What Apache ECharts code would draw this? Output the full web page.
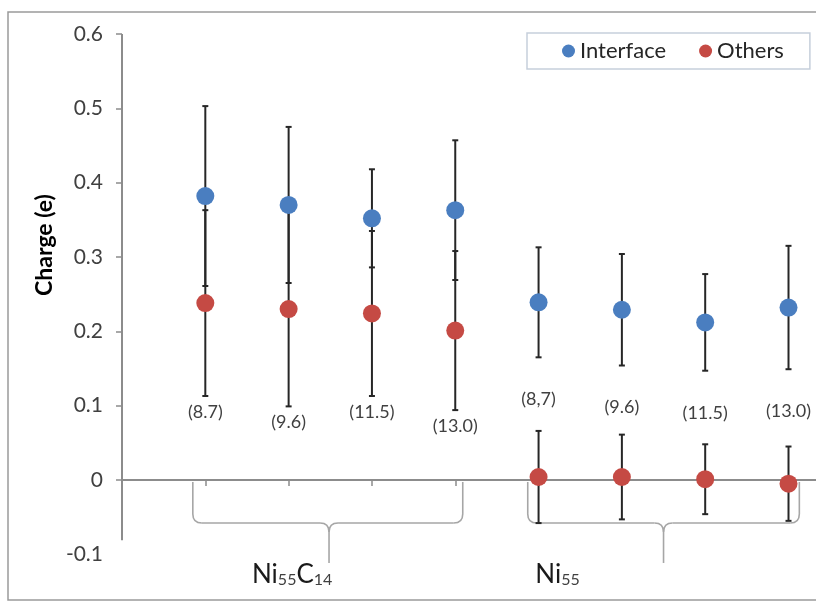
<!DOCTYPE html>
<html>
<head>
<meta charset="utf-8">
<script src="https://cdn.jsdelivr.net/npm/echarts@6/dist/echarts.min.js"></script>
<style>
  html, body { margin: 0; padding: 0; background: #ffffff; }
  #chart { width: 816px; height: 602px; }
</style>
</head>
<body>
<div id="chart"></div>
<script>
// Cluster-size labels under each column, left block Ni55C14, right block Ni55
const sizeLabels = ['(8.7)', '(9.6)', '(11.5)', '(13.0)', '(8,7)', '(9.6)', '(11.5)', '(13.0)'];
const groupOf = [0, 0, 0, 0, 1, 1, 1, 1];

// Mean charge (e) and its spread
const interfaceCharge = [0.382, 0.370, 0.352, 0.363, 0.239, 0.229, 0.212, 0.232];
const interfaceErr    = [0.121, 0.105, 0.066, 0.094, 0.074, 0.075, 0.065, 0.083];
const othersCharge    = [0.238, 0.230, 0.224, 0.201, 0.004, 0.004, 0.001, -0.005];
const othersErr       = [0.125, 0.131, 0.111, 0.107, 0.062, 0.057, 0.047, 0.050];

// Axis ticks and labels
const yTickValues  = [0, 0.1, 0.2, 0.3, 0.4, 0.5, 0.6];
const yLabelValues = [-0.1, 0, 0.1, 0.2, 0.3, 0.4, 0.5, 0.6];
const xTickValues  = [1, 2, 3, 4, 5, 6, 7, 8];

const FONT = 'Lato, "Open Sans", sans-serif';
const BLUE = '#4A7EC0';
const RED = '#C54A44';
const AXIS_GREY = '#8c8c8c';

const xs = sizeLabels.map((_, i) => i + 1);
const interfaceData = xs.map((x, i) => [x, interfaceCharge[i]]);
const othersData = xs.map((x, i) => [x, othersCharge[i]]);
const interfaceBars = xs.map((x, i) => [x, interfaceCharge[i], interfaceErr[i]]);
const othersBars = xs.map((x, i) => [x, othersCharge[i], othersErr[i]]);

// Size labels hang below the lowest error bar of the column for the left block,
// and below the interface bar for the right block.
const labelAnchor = xs.map((x, i) => groupOf[i] === 0
  ? [x, othersCharge[i] - othersErr[i], i]
  : [x, interfaceCharge[i] - interfaceErr[i], i]);
const labelGap = [16, 42];

function errorBarItem(params, api) {
  const x = api.value(0), v = api.value(1), e = api.value(2);
  const top = api.coord([x, v + e]);
  const bot = api.coord([x, v - e]);
  const cap = 3;
  const style = { stroke: '#262626', lineWidth: 2 };
  return {
    type: 'group',
    children: [
      { type: 'line', shape: { x1: top[0], y1: top[1], x2: bot[0], y2: bot[1] }, style },
      { type: 'line', shape: { x1: top[0] - cap, y1: top[1], x2: top[0] + cap, y2: top[1] }, style },
      { type: 'line', shape: { x1: bot[0] - cap, y1: bot[1], x2: bot[0] + cap, y2: bot[1] }, style }
    ]
  };
}

function sizeLabelItem(params, api) {
  const i = api.value(2);
  const p = api.coord([api.value(0), api.value(1)]);
  return {
    type: 'text',
    x: p[0],
    y: p[1] + labelGap[groupOf[i]],
    style: {
      text: sizeLabels[i],
      fill: '#404040',
      font: '18px ' + FONT,
      align: 'center',
      verticalAlign: 'middle'
    }
  };
}

const chart = echarts.init(document.getElementById('chart'), null, { renderer: 'canvas' });

chart.setOption({
  backgroundColor: '#ffffff',
  animation: false,
  grid: { left: 122, right: 0, top: 34, bottom: 47.7 },
  legend: {
    data: ['Interface', 'Others'],
    left: 527,
    top: 33,
    padding: [7, 26, 7, 35],
    itemWidth: 13,
    itemHeight: 13,
    itemGap: 33,
    icon: 'circle',
    borderColor: '#c6cfdb',
    borderWidth: 1.5,
    textStyle: { fontFamily: FONT, fontSize: 22, color: '#262626' }
  },
  xAxis: {
    type: 'value',
    min: 0,
    max: 8.33,
    axisLine: { show: true, onZero: true, lineStyle: { color: AXIS_GREY, width: 2 } },
    axisTick: { show: true, customValues: xTickValues, length: 6, lineStyle: { color: AXIS_GREY, width: 1.5 } },
    axisLabel: { show: false },
    splitLine: { show: false }
  },
  yAxis: {
    type: 'value',
    min: -0.1,
    max: 0.6,
    interval: 0.1,
    axisLine: { show: false },
    axisTick: { show: true, customValues: yTickValues, length: 6, lineStyle: { color: AXIS_GREY, width: 1.5 } },
    axisLabel: {
      customValues: yLabelValues,
      margin: 19,
      fontFamily: FONT,
      fontSize: 21,
      color: '#404040',
      formatter: v => (Math.abs(v) < 1e-9 ? '0' : String(+v.toFixed(1)))
    },
    splitLine: { show: false }
  },
  series: [
    {
      name: 'InterfaceErr', type: 'custom', renderItem: errorBarItem,
      data: interfaceBars, z: 2, silent: true,
      markLine: {
        silent: true, symbol: 'none', label: { show: false },
        lineStyle: { color: AXIS_GREY, width: 2, type: 'solid' },
        data: [[{ coord: [0, 0.6] }, { coord: [0, -0.081] }]]
      }
    },
    { name: 'OthersErr', type: 'custom', renderItem: errorBarItem, data: othersBars, z: 2, silent: true },
    { name: 'SizeLabels', type: 'custom', renderItem: sizeLabelItem, data: labelAnchor, z: 2, silent: true },
    {
      name: 'Interface', type: 'scatter', data: interfaceData, symbol: 'circle', symbolSize: 18,
      itemStyle: { color: BLUE, opacity: 1 }, z: 5
    },
    {
      name: 'Others', type: 'scatter', data: othersData, symbol: 'circle', symbolSize: 18,
      itemStyle: { color: RED, opacity: 1 }, z: 5
    }
  ]
});

// Curly braces grouping the two cluster families under the axis
const braceSpans = [
  { from: 0.85, to: 4.09, tip: 2.485, text: 1.56, parts: ['Ni', '55', 'C', '14'] },
  { from: 4.87, to: 8.13, tip: 6.5, text: 4.96, parts: ['Ni', '55'] }
];
const toPx = (x, y) => chart.convertToPixel({ gridIndex: 0 }, [x, y]);
const yTop = toPx(0, 0)[1] + 2;
const yMid = yTop + 41;
const yTip = yTop + 81;
const r = 9;
const braceStyle = { fill: 'none', stroke: '#a6a6a6', lineWidth: 1.6 };

const graphics = [
  {
    type: 'rect', silent: true, z: -10,
    shape: { x: 8, y: 12, width: 900, height: 588 },
    style: { fill: 'none', stroke: '#9a9a9a', lineWidth: 1.5 }
  },
  {
    type: 'text', silent: true,
    x: 45, y: 245, rotation: Math.PI / 2,
    style: {
      text: 'Charge (e)', fill: '#000000',
      font: 'bold 23px ' + FONT, align: 'center', verticalAlign: 'middle'
    }
  }
];

function line(x1, y1, x2, y2) {
  return { type: 'line', silent: true, z: 1, shape: { x1, y1, x2, y2 }, style: braceStyle };
}
function curve(x1, y1, cx, cy, x2, y2) {
  return { type: 'bezierCurve', silent: true, z: 1, shape: { x1, y1, cpx1: cx, cpy1: cy, x2, y2 }, style: braceStyle };
}

braceSpans.forEach(b => {
  const xl = toPx(b.from, 0)[0];
  const xr = toPx(b.to, 0)[0];
  const xm = toPx(b.tip, 0)[0];
  graphics.push(
    line(xl, yTop, xl, yMid - r),
    curve(xl, yMid - r, xl, yMid, xl + r, yMid),
    line(xl + r, yMid, xm - r, yMid),
    curve(xm - r, yMid, xm, yMid, xm, yMid + r),
    curve(xm + r, yMid, xm, yMid, xm, yMid + r),
    line(xm, yMid + r, xm, yTip),
    line(xm + r, yMid, xr - r, yMid),
    curve(xr - r, yMid, xr, yMid, xr, yMid - r),
    line(xr, yMid - r, xr, yTop)
  );
  const txt = b.parts.map((p, k) => (k % 2 === 0 ? `{n|${p}}` : `{s|${p}}`)).join('');
  graphics.push({
    type: 'text', silent: true, z: 3,
    x: toPx(b.text, 0)[0], y: 575,
    style: {
      text: txt,
      align: 'left',
      verticalAlign: 'middle',
      rich: {
        n: { fontFamily: FONT, fontSize: 26, fill: '#1a1a1a', lineHeight: 26 },
        s: { fontFamily: FONT, fontSize: 16, fill: '#404040', lineHeight: 6, verticalAlign: 'bottom' }
      }
    }
  });
});

chart.setOption({ graphic: graphics });
</script>
</body>
</html>
